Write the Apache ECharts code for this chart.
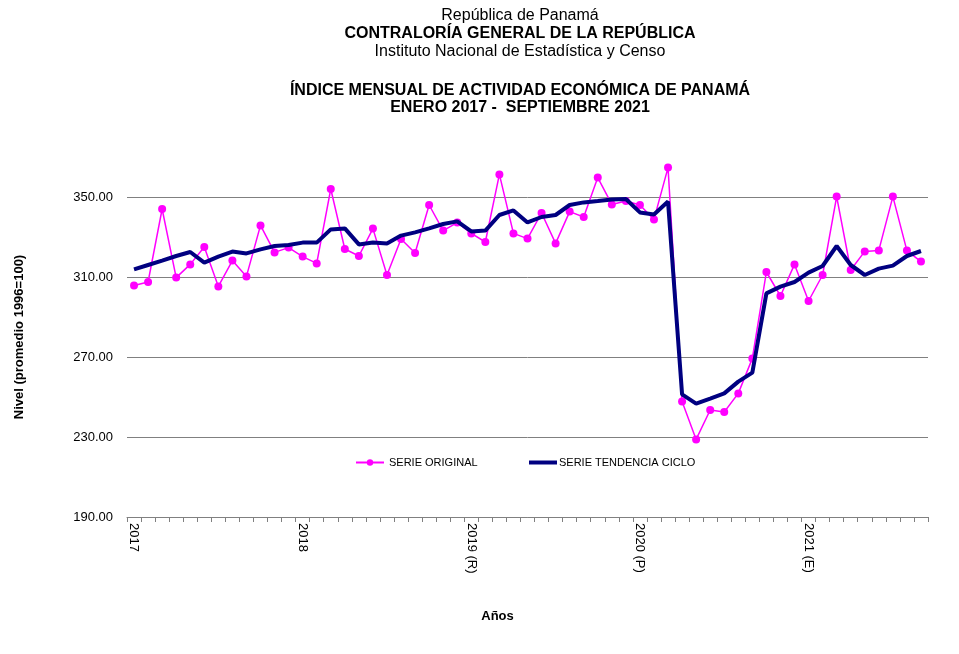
<!DOCTYPE html>
<html>
<head>
<meta charset="utf-8">
<script src="https://cdn.jsdelivr.net/npm/echarts@6/dist/echarts.min.js"></script>
<style>
html,body{margin:0;padding:0;background:#fff;}
#chart{width:959px;height:654px;}
</style>
</head>
<body>
<div id="chart"></div>
<script>
// Year labels (shown at January of each year)
var yearLabels = ['2017', '2018', '2019 (R)', '2020 (P)', '2021 (E)'];
var monthsInLastYear = 9; // Jan–Sep 2021

// Serie original (Enero 2017 - Septiembre 2021)
var serieOriginal = [
  305.8, 307.5, 344.0, 309.7, 316.3, 325.0, 305.3, 318.2, 310.3, 335.8, 322.3, 324.7,
  320.2, 316.8, 354.0, 324.0, 320.5, 334.2, 311.0, 329.0, 322.0, 346.0, 333.2, 337.2,
  331.8, 327.5, 361.3, 331.8, 329.2, 342.0, 326.8, 342.7, 340.0, 359.7, 346.3, 348.0,
  346.0, 338.8, 364.7, 247.7, 228.8, 243.5, 242.5, 251.8, 269.3, 312.5, 300.5, 316.3,
  298.0, 311.0, 350.2, 313.5, 322.8, 323.3, 350.2, 323.2, 317.7
];

// Serie tendencia ciclo
var serieTendencia = [
  313.8, 316.0, 318.2, 320.5, 322.5, 317.2, 320.2, 322.7, 321.8, 323.8, 325.5, 326.0,
  327.2, 327.2, 333.8, 334.3, 326.3, 327.2, 326.8, 330.7, 332.3, 334.3, 336.5, 337.8,
  332.8, 333.2, 341.0, 343.3, 337.3, 340.0, 341.0, 346.0, 347.3, 348.0, 348.8, 349.0,
  342.3, 341.3, 347.7, 251.3, 246.7, 249.2, 251.8, 257.7, 262.2, 301.8, 305.2, 307.5,
  312.2, 315.5, 325.5, 316.0, 311.0, 314.2, 315.7, 320.5, 323.0
];

// Y axis tick values
var yTicks = [190, 230, 270, 310, 350];

// Build category keys (one per month) from year labels
var categories = [];
for (var y = 0; y < yearLabels.length; y++) {
  var n = (y === yearLabels.length - 1) ? monthsInLastYear : 12;
  for (var m = 0; m < n; m++) categories.push(yearLabels[y] + '|' + (m + 1));
}

var chart = echarts.init(document.getElementById('chart'), null, {renderer: 'canvas'});
var fontFamily = '"Liberation Sans", Arial, sans-serif';

var titleLines = [
  {text: 'República de Panamá', top: 8, bold: false},
  {text: 'CONTRALORÍA GENERAL DE LA REPÚBLICA', top: 26, bold: true},
  {text: 'Instituto Nacional de Estadística y Censo', top: 44, bold: false},
  {text: 'ÍNDICE MENSUAL DE ACTIVIDAD ECONÓMICA DE PANAMÁ', top: 83, bold: true},
  {text: 'ENERO 2017 -  SEPTIEMBRE 2021', top: 100, bold: true}
];

var option = {
  backgroundColor: '#ffffff',
  animation: false,
  title: titleLines.map(function (t) {
    return {
      text: t.text,
      left: 520,
      top: t.top,
      textAlign: 'center',
      padding: 0,
      textStyle: {
        fontFamily: fontFamily,
        fontSize: 16,
        fontWeight: t.bold ? 'bold' : 'normal',
        color: '#000'
      }
    };
  }),
  legend: [
    {
      left: 350,
      top: 452,
      itemWidth: 28,
      itemHeight: 8,
      itemGap: 3,
      textStyle: {fontFamily: fontFamily, fontSize: 11, color: '#000'},
      data: [{name: 'SERIE ORIGINAL'}]
    },
    {
      left: 524,
      top: 452,
      itemWidth: 28,
      itemHeight: 4,
      textStyle: {fontFamily: fontFamily, fontSize: 11, color: '#000', padding: [0, 0, 0, -3]},
      data: [{name: 'SERIE TENDENCIA CICLO', icon: 'rect'}]
    }
  ],
  grid: {left: 127, right: 31, top: 157, bottom: 137, containLabel: false},
  xAxis: {
    type: 'category',
    data: categories,
    boundaryGap: true,
    name: 'Años',
    nameLocation: 'middle',
    nameGap: 93,
    nameTextStyle: {fontFamily: fontFamily, fontSize: 13, fontWeight: 'bold', color: '#000', padding: [0, 60, 0, 0]},
    axisLine: {show: true, lineStyle: {color: '#808080', width: 1}},
    axisTick: {show: true, interval: 0, alignWithLabel: false, length: 5, lineStyle: {color: '#808080'}},
    axisLabel: {
      interval: 11,
      rotate: -90,
      margin: 6,
      fontFamily: fontFamily,
      fontSize: 13,
      color: '#000',
      formatter: function (v) { return v.split('|')[0]; }
    },
    splitLine: {show: false}
  },
  yAxis: {
    type: 'value',
    min: 190,
    max: 370,
    name: 'Nivel (promedio 1996=100)',
    nameLocation: 'middle',
    nameGap: 101,
    nameRotate: 90,
    nameTextStyle: {fontFamily: fontFamily, fontSize: 13, fontWeight: 'bold', color: '#000'},
    axisLine: {show: false},
    axisTick: {show: false, customValues: yTicks},
    axisLabel: {
      customValues: yTicks,
      margin: 14,
      fontFamily: fontFamily,
      fontSize: 13,
      color: '#000',
      formatter: function (v) { return v.toFixed(2); }
    },
    splitLine: {show: true, lineStyle: {color: '#808080', width: 1}}
  },
  series: [
    {
      name: 'SERIE ORIGINAL',
      type: 'line',
      data: serieOriginal,
      symbol: 'circle',
      symbolSize: 8,
      showAllSymbol: true,
      itemStyle: {color: '#FF00FF'},
      lineStyle: {color: '#FF00FF', width: 1.5},
      z: 2
    },
    {
      name: 'SERIE TENDENCIA CICLO',
      type: 'line',
      data: serieTendencia,
      symbol: 'none',
      itemStyle: {color: '#000080'},
      lineStyle: {color: '#000080', width: 4},
      z: 3
    }
  ]
};
chart.setOption(option);
</script>
</body>
</html>
